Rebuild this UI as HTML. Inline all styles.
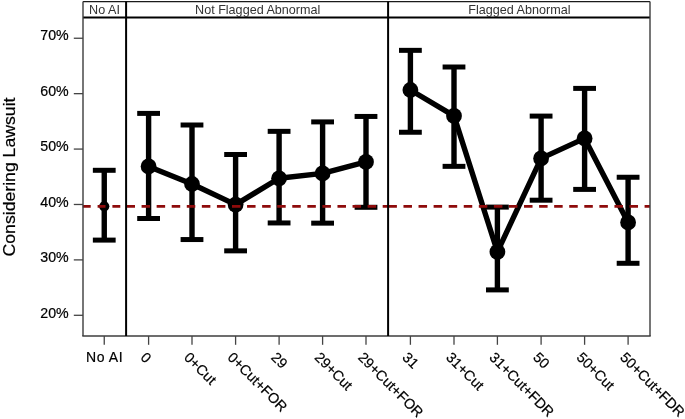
<!DOCTYPE html><html><head><meta charset="utf-8"><style>
html,body{margin:0;padding:0;background:#fff;width:685px;height:419px;overflow:hidden}
svg{display:block;will-change:transform}
text{font-family:"Liberation Sans", sans-serif}
.tl{stroke:#000;stroke-width:0.2px}
</style></head><body>
<svg width="685" height="419" viewBox="0 0 685 419">
<rect width="685" height="419" fill="#fff"/>
<line x1="104.25" y1="170.30" x2="104.25" y2="240.10" stroke="#000" stroke-width="5.40"/><line x1="92.85" y1="170.30" x2="115.65" y2="170.30" stroke="#000" stroke-width="5.00"/><line x1="92.85" y1="240.10" x2="115.65" y2="240.10" stroke="#000" stroke-width="5.00"/>
<line x1="148.60" y1="113.40" x2="148.60" y2="218.50" stroke="#000" stroke-width="5.40"/><line x1="137.20" y1="113.40" x2="160.00" y2="113.40" stroke="#000" stroke-width="5.00"/><line x1="137.20" y1="218.50" x2="160.00" y2="218.50" stroke="#000" stroke-width="5.00"/>
<line x1="192.00" y1="125.00" x2="192.00" y2="239.55" stroke="#000" stroke-width="5.40"/><line x1="180.60" y1="125.00" x2="203.40" y2="125.00" stroke="#000" stroke-width="5.00"/><line x1="180.60" y1="239.55" x2="203.40" y2="239.55" stroke="#000" stroke-width="5.00"/>
<line x1="235.60" y1="154.50" x2="235.60" y2="250.85" stroke="#000" stroke-width="5.40"/><line x1="224.20" y1="154.50" x2="247.00" y2="154.50" stroke="#000" stroke-width="5.00"/><line x1="224.20" y1="250.85" x2="247.00" y2="250.85" stroke="#000" stroke-width="5.00"/>
<line x1="279.10" y1="131.35" x2="279.10" y2="222.95" stroke="#000" stroke-width="5.40"/><line x1="267.70" y1="131.35" x2="290.50" y2="131.35" stroke="#000" stroke-width="5.00"/><line x1="267.70" y1="222.95" x2="290.50" y2="222.95" stroke="#000" stroke-width="5.00"/>
<line x1="322.60" y1="121.90" x2="322.60" y2="223.15" stroke="#000" stroke-width="5.40"/><line x1="311.20" y1="121.90" x2="334.00" y2="121.90" stroke="#000" stroke-width="5.00"/><line x1="311.20" y1="223.15" x2="334.00" y2="223.15" stroke="#000" stroke-width="5.00"/>
<line x1="366.00" y1="116.45" x2="366.00" y2="207.30" stroke="#000" stroke-width="5.40"/><line x1="354.60" y1="116.45" x2="377.40" y2="116.45" stroke="#000" stroke-width="5.00"/><line x1="354.60" y1="207.30" x2="377.40" y2="207.30" stroke="#000" stroke-width="5.00"/>
<line x1="410.40" y1="50.35" x2="410.40" y2="132.25" stroke="#000" stroke-width="5.40"/><line x1="399.00" y1="50.35" x2="421.80" y2="50.35" stroke="#000" stroke-width="5.00"/><line x1="399.00" y1="132.25" x2="421.80" y2="132.25" stroke="#000" stroke-width="5.00"/>
<line x1="454.00" y1="67.00" x2="454.00" y2="166.35" stroke="#000" stroke-width="5.40"/><line x1="442.60" y1="67.00" x2="465.40" y2="67.00" stroke="#000" stroke-width="5.00"/><line x1="442.60" y1="166.35" x2="465.40" y2="166.35" stroke="#000" stroke-width="5.00"/>
<line x1="497.40" y1="207.10" x2="497.40" y2="289.90" stroke="#000" stroke-width="5.40"/><line x1="486.00" y1="207.10" x2="508.80" y2="207.10" stroke="#000" stroke-width="5.00"/><line x1="486.00" y1="289.90" x2="508.80" y2="289.90" stroke="#000" stroke-width="5.00"/>
<line x1="541.10" y1="116.10" x2="541.10" y2="200.20" stroke="#000" stroke-width="5.40"/><line x1="529.70" y1="116.10" x2="552.50" y2="116.10" stroke="#000" stroke-width="5.00"/><line x1="529.70" y1="200.20" x2="552.50" y2="200.20" stroke="#000" stroke-width="5.00"/>
<line x1="584.60" y1="88.40" x2="584.60" y2="189.40" stroke="#000" stroke-width="5.40"/><line x1="573.20" y1="88.40" x2="596.00" y2="88.40" stroke="#000" stroke-width="5.00"/><line x1="573.20" y1="189.40" x2="596.00" y2="189.40" stroke="#000" stroke-width="5.00"/>
<line x1="628.10" y1="177.25" x2="628.10" y2="263.30" stroke="#000" stroke-width="5.40"/><line x1="616.70" y1="177.25" x2="639.50" y2="177.25" stroke="#000" stroke-width="5.00"/><line x1="616.70" y1="263.30" x2="639.50" y2="263.30" stroke="#000" stroke-width="5.00"/>
<polyline points="148.60,166.40 192.00,184.00 235.60,204.60 279.10,178.30 322.60,173.40 366.00,161.95" fill="none" stroke="#000" stroke-width="5.4" stroke-linejoin="round"/>
<polyline points="410.40,90.00 454.00,115.90 497.40,251.80 541.10,158.40 584.60,138.40 628.10,222.40" fill="none" stroke="#000" stroke-width="5.4" stroke-linejoin="round"/>
<circle cx="104.25" cy="206.30" r="5.1" fill="#000"/>
<circle cx="148.60" cy="166.40" r="7.9" fill="#000"/>
<circle cx="192.00" cy="184.00" r="7.9" fill="#000"/>
<circle cx="235.60" cy="204.60" r="7.9" fill="#000"/>
<circle cx="279.10" cy="178.30" r="7.9" fill="#000"/>
<circle cx="322.60" cy="173.40" r="7.9" fill="#000"/>
<circle cx="366.00" cy="161.95" r="7.9" fill="#000"/>
<circle cx="410.40" cy="90.00" r="7.9" fill="#000"/>
<circle cx="454.00" cy="115.90" r="7.9" fill="#000"/>
<circle cx="497.40" cy="251.80" r="7.9" fill="#000"/>
<circle cx="541.10" cy="158.40" r="7.9" fill="#000"/>
<circle cx="584.60" cy="138.40" r="7.9" fill="#000"/>
<circle cx="628.10" cy="222.40" r="7.9" fill="#000"/>
<line x1="82.80" y1="206.30" x2="126.10" y2="206.30" stroke="#8e0b0b" stroke-width="2.8" stroke-dasharray="7.9 6.9"/>
<line x1="126.50" y1="206.30" x2="388.10" y2="206.30" stroke="#8e0b0b" stroke-width="2.8" stroke-dasharray="8.5 6.57"/>
<line x1="388.40" y1="206.30" x2="650.00" y2="206.30" stroke="#8e0b0b" stroke-width="2.8" stroke-dasharray="8.5 6.57"/>
<line x1="83.00" y1="1.60" x2="650.00" y2="1.60" stroke="#1a1a1a" stroke-width="1.3"/>
<line x1="83.00" y1="17.60" x2="650.00" y2="17.60" stroke="#000" stroke-width="2"/>
<line x1="83.00" y1="1.60" x2="83.00" y2="336.00" stroke="#3c3c3c" stroke-width="1.4"/>
<line x1="650.00" y1="1.60" x2="650.00" y2="336.00" stroke="#3c3c3c" stroke-width="1.4"/>
<line x1="82.30" y1="336.00" x2="650.70" y2="336.00" stroke="#3c3c3c" stroke-width="1.4"/>
<line x1="126.10" y1="1.60" x2="126.10" y2="336.00" stroke="#000" stroke-width="2"/>
<line x1="388.10" y1="1.60" x2="388.10" y2="336.00" stroke="#000" stroke-width="2"/>
<text x="104.5" y="13.8" font-size="12.6" text-anchor="middle" fill="#333">No AI</text>
<text x="257.7" y="13.8" font-size="12.6" text-anchor="middle" fill="#333">Not Flagged Abnormal</text>
<text x="519.4" y="13.8" font-size="12.6" text-anchor="middle" fill="#333">Flagged Abnormal</text>
<line x1="73.8" y1="38.25" x2="83.00" y2="38.25" stroke="#444" stroke-width="1.3"/>
<text x="68.7" y="40.45" font-size="14.2" text-anchor="end" fill="#000" class="tl">70%</text>
<line x1="73.8" y1="93.66" x2="83.00" y2="93.66" stroke="#444" stroke-width="1.3"/>
<text x="68.7" y="95.86" font-size="14.2" text-anchor="end" fill="#000" class="tl">60%</text>
<line x1="73.8" y1="149.07" x2="83.00" y2="149.07" stroke="#444" stroke-width="1.3"/>
<text x="68.7" y="151.27" font-size="14.2" text-anchor="end" fill="#000" class="tl">50%</text>
<line x1="73.8" y1="204.48" x2="83.00" y2="204.48" stroke="#444" stroke-width="1.3"/>
<text x="68.7" y="206.68" font-size="14.2" text-anchor="end" fill="#000" class="tl">40%</text>
<line x1="73.8" y1="259.89" x2="83.00" y2="259.89" stroke="#444" stroke-width="1.3"/>
<text x="68.7" y="262.09" font-size="14.2" text-anchor="end" fill="#000" class="tl">30%</text>
<line x1="73.8" y1="315.30" x2="83.00" y2="315.30" stroke="#444" stroke-width="1.3"/>
<text x="68.7" y="317.50" font-size="14.2" text-anchor="end" fill="#000" class="tl">20%</text>
<line x1="104.25" y1="336.00" x2="104.25" y2="344.8" stroke="#444" stroke-width="1.3"/>
<line x1="148.60" y1="336.00" x2="148.60" y2="344.8" stroke="#444" stroke-width="1.3"/>
<line x1="192.00" y1="336.00" x2="192.00" y2="344.8" stroke="#444" stroke-width="1.3"/>
<line x1="235.60" y1="336.00" x2="235.60" y2="344.8" stroke="#444" stroke-width="1.3"/>
<line x1="279.10" y1="336.00" x2="279.10" y2="344.8" stroke="#444" stroke-width="1.3"/>
<line x1="322.60" y1="336.00" x2="322.60" y2="344.8" stroke="#444" stroke-width="1.3"/>
<line x1="366.00" y1="336.00" x2="366.00" y2="344.8" stroke="#444" stroke-width="1.3"/>
<line x1="410.40" y1="336.00" x2="410.40" y2="344.8" stroke="#444" stroke-width="1.3"/>
<line x1="454.00" y1="336.00" x2="454.00" y2="344.8" stroke="#444" stroke-width="1.3"/>
<line x1="497.40" y1="336.00" x2="497.40" y2="344.8" stroke="#444" stroke-width="1.3"/>
<line x1="541.10" y1="336.00" x2="541.10" y2="344.8" stroke="#444" stroke-width="1.3"/>
<line x1="584.60" y1="336.00" x2="584.60" y2="344.8" stroke="#444" stroke-width="1.3"/>
<line x1="628.10" y1="336.00" x2="628.10" y2="344.8" stroke="#444" stroke-width="1.3"/>
<text x="104.6" y="361.7" font-size="14" text-anchor="middle" letter-spacing="0.6" fill="#000" class="tl">No AI</text>
<text transform="translate(139.80 358.20) rotate(45)" x="0" y="0" font-size="14.3" fill="#000" class="tl">0</text>
<text transform="translate(183.20 358.20) rotate(45)" x="0" y="0" font-size="14.3" fill="#000" class="tl">0+Cut</text>
<text transform="translate(226.80 358.20) rotate(45)" x="0" y="0" font-size="14.3" fill="#000" class="tl">0+Cut+FOR</text>
<text transform="translate(270.30 358.20) rotate(45)" x="0" y="0" font-size="14.3" fill="#000" class="tl">29</text>
<text transform="translate(313.80 358.20) rotate(45)" x="0" y="0" font-size="14.3" fill="#000" class="tl">29+Cut</text>
<text transform="translate(357.20 358.20) rotate(45)" x="0" y="0" font-size="14.3" fill="#000" class="tl">29+Cut+FOR</text>
<text transform="translate(401.60 358.20) rotate(45)" x="0" y="0" font-size="14.3" fill="#000" class="tl">31</text>
<text transform="translate(445.20 358.20) rotate(45)" x="0" y="0" font-size="14.3" fill="#000" class="tl">31+Cut</text>
<text transform="translate(488.60 358.20) rotate(45)" x="0" y="0" font-size="14.3" fill="#000" class="tl">31+Cut+FDR</text>
<text transform="translate(532.30 358.20) rotate(45)" x="0" y="0" font-size="14.3" fill="#000" class="tl">50</text>
<text transform="translate(575.80 358.20) rotate(45)" x="0" y="0" font-size="14.3" fill="#000" class="tl">50+Cut</text>
<text transform="translate(619.30 358.20) rotate(45)" x="0" y="0" font-size="14.3" fill="#000" class="tl">50+Cut+FDR</text>
<text transform="translate(14.8 177) rotate(-90)" x="0" y="0" font-size="16.4" text-anchor="middle" textLength="159" lengthAdjust="spacingAndGlyphs" fill="#000" class="tl">Considering Lawsuit</text>
</svg></body></html>
